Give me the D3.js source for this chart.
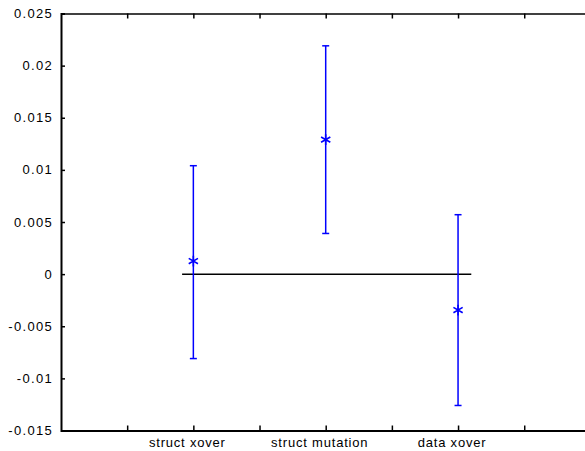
<!DOCTYPE html>
<html>
<head>
<meta charset="utf-8">
<script src="https://cdn.jsdelivr.net/npm/d3@7"></script>
<style>
  body { margin: 0; background: #fff; }
  text { font-family: "Liberation Sans", Arial, sans-serif; font-size: 13px; fill: #000; }
</style>
</head>
<body>
<svg id="chart" width="585" height="451"></svg>
<script>
const categories = ['struct xover', 'struct mutation', 'data xover'];
const positions = [2, 4, 6];
const means = [0.00125, 0.0129, -0.00345];
const upper = [0.0104, 0.0219, 0.0057];
const lower = [-0.0081, 0.0039, -0.0126];
const yTicks = [-0.015, -0.01, -0.005, 0, 0.005, 0.01, 0.015, 0.02, 0.025];
const xTicks = [1, 2, 3, 4, 5, 6, 7];
const zeroLine = [1.83, 6.2];

const svg = d3.select('#chart');

const xScale = d3.scaleLinear().domain([0, 8]).range([61, 590.4]);
const yScale = d3.scaleLinear().domain([-0.015, 0.025]).range([430.5, 13.5]);

const fmt = d => (d === 0 ? '0' : String(d));

// left axis, ticks pointing into the plot
const leftAxis = svg.append('g')
  .attr('transform', `translate(${xScale(0)},0)`)
  .call(d3.axisRight(yScale).tickValues(yTicks).tickSize(4).tickFormat(''));
leftAxis.select('.domain').attr('stroke-width', 2);

svg.append('g')
  .selectAll('text')
  .data(yTicks)
  .enter()
  .append('text')
  .attr('x', 53)
  .attr('y', d => yScale(d))
  .attr('dy', '0.35em')
  .attr('text-anchor', 'end')
  .style('letter-spacing', '1.3px')
  .text(fmt);

// top and bottom axes
const topAxis = svg.append('g')
  .attr('transform', `translate(0,${yScale(0.025)})`)
  .call(d3.axisBottom(xScale).tickValues(xTicks).tickSize(5).tickFormat('').tickSizeOuter(0));
topAxis.select('.domain').attr('stroke-width', 1.5);

const bottomAxis = svg.append('g')
  .attr('transform', `translate(0,${yScale(-0.015)})`)
  .call(d3.axisTop(xScale).tickValues(xTicks).tickSize(5).tickFormat('').tickSizeOuter(0));
bottomAxis.select('.domain').attr('stroke-width', 2);

svg.selectAll('.tick line').attr('stroke-width', 1.5);

// category labels sit a little left of their ticks in the original
svg.append('g')
  .selectAll('text')
  .data(categories)
  .enter()
  .append('text')
  .attr('x', (d, i) => xScale(positions[i]) - 6)
  .attr('y', 447)
  .attr('text-anchor', 'middle')
  .style('letter-spacing', '0.8px')
  .text(d => d);

// zero reference line
svg.append('line')
  .attr('x1', xScale(zeroLine[0]))
  .attr('x2', xScale(zeroLine[1]))
  .attr('y1', yScale(0))
  .attr('y2', yScale(0))
  .attr('stroke', '#000')
  .attr('stroke-width', 1.5);

// error bars
const bars = svg.append('g')
  .selectAll('g')
  .data(categories)
  .enter()
  .append('g');

bars.append('line')
  .attr('x1', (d, i) => xScale(positions[i]))
  .attr('x2', (d, i) => xScale(positions[i]))
  .attr('y1', (d, i) => yScale(upper[i]))
  .attr('y2', (d, i) => yScale(lower[i]))
  .attr('stroke', '#0000ff')
  .attr('stroke-width', 1.5);

[upper, lower].forEach(vals => {
  bars.append('line')
    .attr('x1', (d, i) => xScale(positions[i]) - 3.5)
    .attr('x2', (d, i) => xScale(positions[i]) + 3.5)
    .attr('y1', (d, i) => yScale(vals[i]))
    .attr('y2', (d, i) => yScale(vals[i]))
    .attr('stroke', '#0000ff')
    .attr('stroke-width', 1.5);
});

bars.append('path')
  .attr('transform', (d, i) => `translate(${xScale(positions[i])},${yScale(means[i])})`)
  .attr('d', d3.symbol().type(d3.symbolAsterisk).size(80))
  .attr('fill', 'none')
  .attr('stroke', '#0000ff')
  .attr('stroke-width', 1.6);
</script>
</body>
</html>
